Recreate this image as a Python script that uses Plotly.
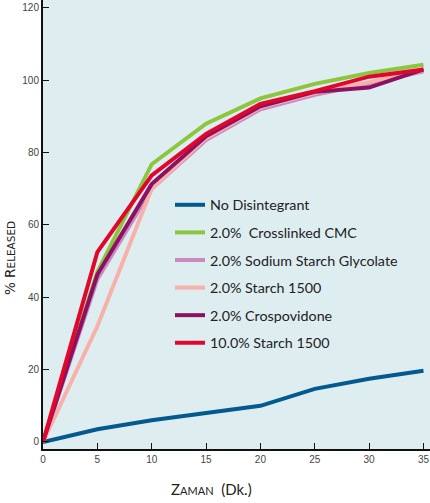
import plotly.graph_objects as go

time_min = [0, 5, 10, 15, 20, 25, 30, 35]
no_disintegrant = [0, 3.5, 6, 8, 10, 14.7, 17.5, 19.7]
crosslinked_cmc = [0, 47, 76.8, 88, 95, 99, 102, 104.3]
sodium_starch_glycolate = [0, 45, 70, 83.5, 92, 96, 99, 102.5]
starch_1500_2 = [0, 32, 70, 84, 92.5, 96.5, 99.5, 103]
crospovidone = [0, 46.3, 71.3, 84.5, 92.8, 96.8, 98, 103]
starch_1500_10 = [0, 52.5, 73.7, 85.2, 93.5, 97, 101, 103]

series_names = ["No Disintegrant", "2.0%  Crosslinked CMC", "2.0% Sodium Starch Glycolate",
                "2.0% Starch 1500", "2.0% Crospovidone", "10.0% Starch 1500"]
series_values = [no_disintegrant, crosslinked_cmc, sodium_starch_glycolate,
                 starch_1500_2, crospovidone, starch_1500_10]
colors = ["#035a8e", "#8cc63e", "#c98abf", "#f7b0aa", "#8c1161", "#e1062c"]

x_ticks = [0, 5, 10, 15, 20, 25, 30, 35]
y_ticks = [0, 20, 40, 60, 80, 100, 120]

fig = go.Figure()
for i, (name, vals, col) in enumerate(zip(series_names, series_values, colors)):
    fig.add_trace(go.Scatter(x=time_min, y=vals, mode="lines", name=name,
                             legendgroup=str(i),
                             line=dict(color=col, width=4)))

L, B = 43, 54
pw, ph = 430 - L, 503 - B

def px(xp):
    return (xp - L) / pw

def py(yp):
    return (503 - B - yp) / ph

fig.update_layout(
    width=430, height=503,
    margin=dict(l=L, r=0, t=0, b=B, autoexpand=False),
    paper_bgcolor="white",
    plot_bgcolor="#deedf0",
    font=dict(family="Lato", color="#333"),
    showlegend=True,
    legend=dict(x=px(170), y=py(189), xanchor="left", yanchor="top",
                bgcolor="rgba(0,0,0,0)", font=dict(size=14.3, color="#222"),
                tracegroupgap=6, itemwidth=30),
    xaxis=dict(range=[0, 35.6], tickvals=x_ticks, ticks="inside", ticklen=6,
               tickcolor="#111", showline=True, linecolor="#111", linewidth=2,
               showgrid=False, zeroline=False, automargin=False,
               tickfont=dict(family="Liberation Sans", size=10, color="#444")),
    yaxis=dict(range=[-1.94, 122.2], tickvals=y_ticks, ticks="inside", ticklen=6,
               tickcolor="#111", showline=True, linecolor="#111", linewidth=2,
               showgrid=False, zeroline=False, automargin=False,
               tickfont=dict(family="Liberation Sans", size=10, color="#444")),
    annotations=[
        dict(text="% R<span style='font-size:10.5px'>ELEASED</span>", x=px(10), y=py(258),
             xref="paper", yref="paper", xanchor="center", yanchor="middle",
             showarrow=False, textangle=-90,
             font=dict(family="DejaVu Sans", size=13.5, color="#222")),
        dict(text="Z<span style='font-size:11px'>AMAN</span>  (Dk.)", x=px(211), y=py(489),
             xref="paper", yref="paper", xanchor="center", yanchor="middle",
             showarrow=False,
             font=dict(size=15, color="#222")),
    ],
)

fig.write_html("out.html", config={"displayModeBar": False},
               post_script="document.body.style.margin='0';document.body.style.overflow='hidden';")
